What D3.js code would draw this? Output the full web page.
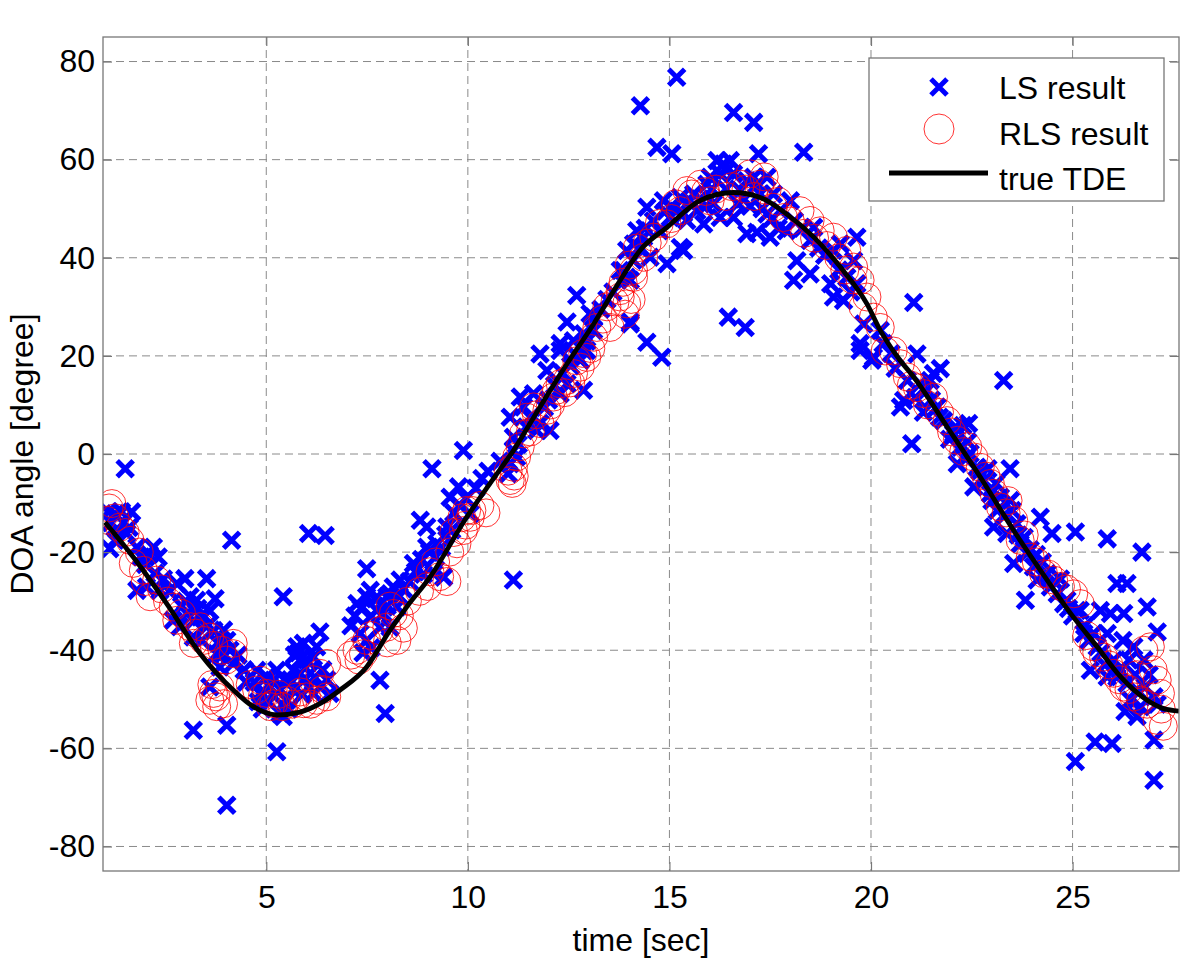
<!DOCTYPE html>
<html>
<head>
<meta charset="utf-8">
<script src="https://cdn.jsdelivr.net/npm/d3@7"></script>
<style>
  body { margin: 0; background: #fff; }
  text { font-family: "Liberation Sans", Arial, Helvetica, sans-serif; fill: #000; }
</style>
</head>
<body>
<div id="chart"></div>
<script>
// tick values
var xTicks = [5, 10, 15, 20, 25];
var yTicks = [-80, -60, -40, -20, 0, 20, 40, 60, 80];

// true TDE curve: [time, angle]
var tdePoints = [
  [1.0,-13.9],[1.7,-21.0],[2.53,-30.5],[3.36,-40.7],[4.18,-48.1],[4.68,-51.5],[5.26,-53.2],
  [5.84,-52.6],[6.33,-50.9],[6.83,-48.1],[7.49,-43.4],[8.07,-35.9],[8.5,-31.0],[9.06,-25.1],
  [9.97,-12.9],[10.55,-6.0],[11.13,0.7],[11.79,9.6],[12.46,18.4],[13.12,26.5],[13.78,35.4],
  [14.27,41.5],[14.94,46.2],[15.77,51.7],[16.59,53.3],[17.25,52.3],[17.91,48.9],[18.58,44.2],
  [19.24,38.1],[19.9,30.6],[20.23,25.2],[20.73,19.0],[21.06,15.7],[21.89,5.5],[22.71,-4.7],
  [23.54,-15.6],[24.37,-25.7],[24.95,-32.5],[25.61,-39.3],[26.19,-45.4],[26.85,-50.2],
  [27.26,-51.9],[27.64,-52.4]
];

// LS result markers: [time, angle]
var lsPoints = [
  [1.50,-3.0],[1.08,-11.8],[1.25,-12.2],[1.41,-11.8],[1.66,-11.8],[1.12,-19.3],[1.25,-17.6],[1.54,-16.2],
  [1.79,-19.0],[2.20,-19.0],[2.32,-21.0],[1.79,-27.8],[2.03,-27.1],[2.36,-27.8],[2.24,-24.3],[2.78,-26.4],
  [2.98,-25.4],[3.52,-25.4],[3.73,-29.5],[3.27,-29.8],[3.11,-29.1],[2.69,-33.9],[2.86,-35.2],[3.03,-32.5],
  [3.36,-33.2],[3.52,-35.2],[3.19,-37.3],[3.94,-35.9],[4.02,-38.0],[3.77,-40.7],[4.18,-42.7],[3.85,-43.4],
  [3.60,-47.5],[3.19,-56.3],[4.02,-55.3],[4.02,-71.6],[4.14,-17.6],[5.42,-29.1],[6.05,-16.2],[6.46,-16.6],
  [5.26,-60.7],[4.76,-44.1],[5.01,-45.4],[5.26,-44.1],[5.18,-46.1],[4.85,-48.8],[5.01,-50.2],[5.34,-52.9],
  [5.51,-50.2],[5.67,-48.1],[5.84,-44.7],[5.76,-39.3],[5.92,-38.6],[6.00,-42.0],[6.17,-41.4],[6.25,-39.3],
  [6.09,-44.7],[6.33,-36.3],[5.84,-42.0],[5.67,-44.1],[6.17,-48.8],[6.33,-47.5],[6.58,-48.8],[5.42,-53.5],
  [4.90,-52.0],[7.49,-23.4],[7.82,-46.1],[7.95,-52.9],[7.25,-30.5],[7.49,-29.1],[7.58,-27.8],[7.74,-31.9],
  [7.99,-29.1],[8.15,-27.1],[8.24,-31.2],[7.33,-36.6],[7.49,-38.0],[7.82,-35.3],[8.07,-35.3],
  [1.15,-14.0],[1.30,-15.5],[1.45,-14.0],[1.60,-15.0],[1.90,-21.0],[2.00,-22.5],[2.10,-20.5],[2.45,-25.5],
  [2.60,-28.0],[2.90,-31.0],[3.00,-30.0],[3.20,-34.0],[3.30,-31.5],[3.45,-33.0],[3.60,-32.0],[3.70,-36.0],
  [3.80,-38.5],[3.90,-41.0],[4.10,-40.0],[4.30,-41.0],[4.45,-44.0],[4.50,-46.5],[3.40,-38.0],
  [4.70,-46.5],[4.80,-50.5],[5.10,-47.5],[5.20,-49.5],[5.35,-48.0],[5.45,-46.0],[5.60,-46.0],[5.70,-41.0],
  [5.80,-40.5],[5.95,-46.0],[6.05,-47.5],[6.20,-45.5],[6.40,-44.0],[6.50,-46.0],[5.55,-52.0],[5.90,-49.0],
  [7.10,-35.0],[7.20,-33.0],[7.35,-31.5],[7.60,-33.0],[7.70,-29.5],[7.90,-32.5],[8.00,-31.0],[8.30,-29.0],
  [8.40,-27.5],[7.40,-40.5],[7.60,-39.5],
  [8.55,-26.0],[8.70,-24.0],[8.85,-21.5],[8.90,-24.5],[9.05,-20.0],[9.20,-21.0],[9.35,-19.0],[9.45,-16.5],
  [9.60,-15.5],[9.65,-12.0],[9.80,-10.5],[9.95,-9.0],[10.20,-7.0],[10.35,-5.0],
  [12.70,32.3],[12.46,26.9],[13.03,28.6],[13.12,25.2],[11.79,20.4],[11.96,17.0],[12.29,21.1],[12.62,23.1],
  [12.87,21.1],[12.79,19.1],[12.87,13.0],[12.46,14.3],[12.29,12.3],[11.30,11.6],[11.05,7.5],[11.38,9.6],
  [11.63,12.3],[12.04,4.8],[11.79,6.2],[11.71,4.8],[11.13,3.4],[11.13,0.7],[11.05,-2.0],[11.21,-0.6],
  [9.89,0.7],[9.11,-3.0],[9.77,-6.7],[9.56,-8.8],[10.06,-12.2],[8.82,-13.5],[8.98,-14.9],[9.48,-14.9],
  [8.98,-19.0],[9.23,-18.3],[8.65,-22.3],[9.15,-24.4],[9.40,-25.1],[8.32,-25.7],[8.07,-28.5],[11.13,-25.7],
  [13.78,37.4],[14.03,26.5],[13.94,36.0],[12.29,22.5],[12.87,24.5],[13.12,27.9],[12.95,21.1],[10.5,-3.5],
  [10.8,-1.5],
  [11.00,-4.0],[11.25,2.0],[11.45,5.5],[11.55,7.5],[11.90,9.5],[12.00,11.0],[12.15,14.0],[12.35,16.5],
  [12.55,18.0],[12.70,20.0],[12.95,23.0],[13.30,29.5],[13.45,31.5],[13.60,33.0],
  [15.18,76.8],[14.28,71.0],[16.59,69.6],[17.09,67.6],[14.69,62.5],[15.06,61.2],[17.21,61.2],[18.33,61.5],
  [16.34,59.1],[16.42,57.8],[16.01,56.4],[14.44,50.3],[14.85,51.6],[15.27,52.3],[15.51,51.6],[15.02,48.2],
  [14.19,45.5],[14.11,42.8],[14.36,44.2],[13.94,41.5],[14.52,40.1],[14.94,38.8],[15.35,41.5],[15.27,42.1],
  [13.86,37.4],[14.03,35.4],[14.03,26.9],[14.44,22.8],[14.81,19.7],[16.46,27.9],[16.88,25.8],[15.85,46.9],
  [16.09,51.0],[16.59,48.2],[16.92,44.9],[17.17,45.2],[17.50,44.2],[17.42,48.9],[17.17,55.0],[16.92,55.7],
  [17.42,56.4],[16.76,53.7],[18.00,51.6],[18.16,39.4],[18.08,35.4],[18.49,36.7],[18.58,46.2],[18.49,43.5],
  [19.07,41.5],[19.24,42.8],[19.65,44.2],[19.57,39.4],[19.00,34.7],[19.07,32.0],[19.32,31.3],[19.65,34.7],
  [19.82,26.5],[19.73,22.5],[20.06,19.7],[20.73,9.6],[16.26,48.2],[15.68,49.6],[15.43,47.6],[17.75,49.6],
  [16.18,59.8],[16.51,59.8],[16.26,57.1],[16.59,57.1],[15.93,55.0],[17.09,56.4],[17.25,53.0],[17.58,53.0],
  [19.73,21.1],[20.02,19.1],
  [14.10,39.5],[14.25,42.0],[14.40,46.0],[14.60,47.5],[14.75,45.5],[14.90,49.5],[15.10,50.0],[15.35,49.0],
  [15.60,53.0],[15.75,52.0],[15.90,50.5],[16.05,54.0],[16.40,54.0],[16.70,51.0],[16.85,52.0],[17.00,50.5],
  [17.30,50.0],[17.55,48.0],[17.70,46.0],[17.90,45.5],[18.10,47.5],[18.30,46.0],[18.70,42.0],[18.85,40.5],
  [19.20,37.5],[19.40,36.0],[19.50,33.0],[20.30,22.5],[20.50,20.5],[20.60,17.5],
  [21.06,30.9],[21.14,20.4],[21.72,17.4],[21.55,16.4],[20.81,10.9],[21.01,2.1],[23.29,15.0],[22.42,6.2],
  [23.45,-3.0],[24.20,-12.9],[24.49,-16.2],[25.07,-15.9],[25.86,-17.3],[26.72,-20.0],[23.83,-29.8],[26.10,-26.4],
  [26.35,-26.4],[26.85,-31.2],[27.10,-36.3],[25.69,-31.9],[25.94,-32.5],[26.27,-32.5],[25.86,-36.6],[25.52,-36.6],
  [26.52,-39.3],[26.77,-42.0],[25.44,-44.1],[26.19,-44.1],[26.44,-50.2],[26.69,-51.5],[27.02,-49.5],[25.56,-58.7],
  [25.98,-59.0],[27.02,-58.3],[25.07,-62.7],[27.02,-66.5],[25.11,-31.9],[24.86,-29.8],
  [20.90,15.0],[21.22,14.3],[21.47,15.0],[21.39,13.0],[21.64,9.6],[21.80,6.8],[22.05,4.1],[22.22,1.4],
  [22.14,-2.0],[22.46,0.1],[22.63,-2.7],[22.55,-6.7],[22.80,-5.4],[22.96,-8.1],[23.13,-11.5],[23.21,-8.8],
  [23.46,-9.5],[23.04,-14.9],[23.37,-16.2],[23.62,-14.2],[23.70,-18.3],[23.54,-22.3],[23.87,-20.3],[24.03,-23.0],
  [24.12,-25.7],[24.37,-24.4],[24.45,-27.1],[24.62,-28.5],[24.78,-30.5],[25.19,-31.9],[25.28,-36.6],[25.61,-39.3],
  [26.02,-42.0],[25.86,-45.4],[26.35,-46.8],[26.60,-48.1],[20.23,25.2],[22.28,5.8],
  [21.10,11.5],[21.30,8.5],[21.50,11.0],[21.70,7.5],[21.95,3.0],[22.10,5.5],[22.35,-1.0],[22.40,2.5],
  [22.70,-3.5],[22.90,-3.0],[23.00,-9.5],[23.10,-6.0],[23.30,-12.5],[23.50,-11.5],[23.65,-16.5],[23.80,-17.0],
  [23.95,-19.5],[24.10,-20.5],[24.25,-22.0],[24.55,-26.0],[24.70,-25.5],[24.90,-31.5],[25.00,-33.0],
  [25.30,-35.0],[25.40,-38.0],[25.70,-40.5],[25.80,-43.0],[26.10,-45.5],[26.25,-38.0],[26.40,-42.0],[26.55,-45.0],
  [26.80,-47.5],[26.90,-45.0],[27.10,-51.0],[26.30,-52.5],[26.60,-53.5]
];

// RLS result markers: [time, angle]
var rlsPoints = [
  [1.17,-10.1],[1.04,-13.5],[1.37,-14.9],[1.62,-17.6],[1.70,-22.3],[1.95,-23.7],[2.12,-29.1],[2.28,-25.7],
  [2.69,-31.2],[2.78,-33.9],[3.11,-35.2],[3.19,-38.6],[3.36,-35.2],[3.60,-37.3],[4.18,-40.7],[4.18,-38.6],
  [3.69,-48.8],[3.60,-50.2],[3.85,-47.5],[3.94,-50.9],[3.77,-51.5],[4.85,-46.1],[4.76,-48.1],[5.01,-48.8],
  [5.18,-50.9],[5.51,-50.2],[5.76,-49.5],[6.00,-49.5],[6.25,-50.2],[5.92,-50.9],[6.50,-42.7],[6.33,-44.7],
  [6.50,-49.5],[7.25,-40.0],[7.41,-40.7],[7.49,-38.0],[7.99,-35.3],[8.15,-32.5],[8.24,-38.0],
  [8.07,-31.0],[8.30,-33.0],[8.50,-30.0],[9.06,-24.0],[9.30,-25.0],[9.48,-26.0],[9.73,-18.3],[9.89,-15.6],
  [10.06,-12.9],[9.97,-11.5],[11.13,-2.7],[11.05,-5.4],[11.21,-0.6],[11.38,4.1],[11.46,7.5],[11.63,9.6],
  [11.79,6.2],[11.96,8.9],[12.12,11.6],[12.29,14.3],[12.46,15.0],[12.62,16.4],[12.79,17.7],[12.95,19.7],
  [13.12,23.8],[13.20,25.8],[13.78,33.3],[13.94,30.6],[14.11,37.4],
  [13.53,25.8],[13.78,32.0],[14.11,36.0],[14.36,40.1],[14.61,44.2],[14.94,46.9],[15.27,49.6],[15.43,53.7],
  [15.77,55.0],[16.01,51.6],[16.26,50.3],[16.76,55.0],[17.00,57.1],[17.25,55.0],[17.42,53.7],[17.58,50.3],
  [17.83,48.2],[18.24,49.6],[18.49,47.6],[18.74,45.5],[19.07,44.2],[19.40,41.5],[19.57,38.1],[19.73,35.4],
  [19.90,32.0],[20.06,27.9],[20.23,25.8],
  [20.73,18.4],[20.90,15.7],[21.31,12.3],[21.55,11.6],[21.89,6.8],[22.14,2.8],[22.55,-0.6],[22.71,-2.7],
  [22.96,-6.0],[23.21,-10.8],[23.54,-13.5],[23.70,-17.6],[23.95,-21.0],[24.28,-24.4],[24.53,-25.7],[25.03,-28.5],
  [25.19,-30.5],[25.52,-39.3],[25.77,-41.4],[26.02,-44.7],[26.27,-47.5],[26.77,-40.0],[26.93,-39.3],[27.10,-46.1],
  [27.18,-48.8],[27.10,-54.3],[26.69,-50.2],[26.52,-49.5],
  [1.10,-11.0],[1.25,-13.0],[1.50,-16.0],[1.85,-20.0],[2.00,-26.0],[2.40,-27.5],[2.55,-30.0],[2.90,-32.5],
  [3.25,-36.5],[3.45,-38.0],[3.70,-39.0],[3.90,-40.0],[4.00,-42.0],[3.75,-49.5],[3.65,-47.0],[4.60,-47.0],
  [4.90,-49.5],[5.10,-51.5],[5.30,-49.0],[5.40,-51.5],[5.65,-51.0],[5.85,-48.5],[6.10,-51.0],[6.40,-48.0],
  [6.15,-46.0],[7.10,-41.0],[7.30,-42.0],[7.60,-37.0],[7.80,-36.0],[8.00,-38.5],[8.40,-35.5],[8.80,-28.0],
  [9.00,-27.0],[9.20,-22.0],[9.55,-20.0],[9.65,-16.0],[9.85,-13.0],[9.95,-14.5],[10.10,-11.5],[11.00,-3.5],
  [11.10,-6.0],[11.30,1.5],[11.55,4.5],[11.70,8.0],[12.05,10.0],[12.20,13.0],[12.40,12.5],[12.55,14.5],
  [12.70,19.0],[12.85,20.5],[13.05,21.5],[13.35,27.5],[13.45,30.0],[13.65,31.0],[13.85,35.0],[14.00,38.5],
  [14.20,42.0],[14.45,43.0],[14.75,47.0],[15.05,48.0],[15.15,51.0],[15.55,53.0],[15.90,53.5],[16.15,54.0],
  [16.40,52.5],[16.55,54.5],[16.90,54.0],[17.10,52.5],[17.35,56.5],[17.70,51.5],[18.00,47.5],[18.35,45.0],
  [18.60,44.0],[18.90,42.5],[19.20,40.0],[19.35,37.5],[19.55,35.5],[19.80,30.0],[20.35,21.0],[20.55,21.0],
  [21.00,14.0],[21.15,13.5],[21.40,10.0],[21.70,8.5],[22.00,4.5],[22.30,0.5],[22.40,1.5],[22.85,-4.5],
  [23.05,-8.0],[23.35,-12.0],[23.40,-9.5],[23.80,-16.5],[24.10,-22.0],[24.40,-24.5],[24.70,-27.0],[24.85,-27.5],
  [25.35,-37.0],[25.60,-40.5],[25.90,-43.0],[26.15,-46.0],[26.40,-48.0],[26.60,-45.0],[26.85,-51.0],[27.00,-44.0],
  [27.20,-52.0],[27.25,-55.5],
  [10.30,-10.5],[10.45,-12.0],[11.15,-4.5],[13.90,28.5],[14.05,31.5]
];

var legendLabels = ["LS result", "RLS result", "true TDE"];

var W = 1200, H = 965;
var margin = {top: 37, right: 21, bottom: 94, left: 103};
var width = W - margin.left - margin.right,
    height = H - margin.top - margin.bottom;

var fontSize = 32;

var svg = d3.select("#chart").append("svg")
    .attr("width", W)
    .attr("height", H);

var g = svg.append("g")
    .attr("transform", "translate(" + margin.left + "," + margin.top + ")");

var x = d3.scaleLinear().domain([0.95, 27.64]).range([0, width]);
var y = d3.scaleLinear().domain([-85, 85]).range([height, 0]);

// clip so markers stay inside axes
g.append("clipPath").attr("id", "clip")
  .append("rect").attr("width", width).attr("height", height);

// grid
g.append("g").selectAll("line").data(xTicks).enter().append("line")
    .attr("x1", function(d) { return x(d); }).attr("x2", function(d) { return x(d); })
    .attr("y1", 0).attr("y2", height)
    .attr("stroke", "#8a8a8a").attr("stroke-dasharray", "8,5");
g.append("g").selectAll("line").data(yTicks).enter().append("line")
    .attr("y1", function(d) { return y(d); }).attr("y2", function(d) { return y(d); })
    .attr("x1", 0).attr("x2", width)
    .attr("stroke", "#8a8a8a").attr("stroke-dasharray", "8,5");

var plot = g.append("g").attr("clip-path", "url(#clip)");

var crossPath = "M-8,-8L8,8M-8,8L8,-8";

// LS crosses
plot.append("g").selectAll("path").data(lsPoints).enter().append("path")
    .attr("d", crossPath)
    .attr("transform", function(d) { return "translate(" + x(d[0]) + "," + y(d[1]) + ")"; })
    .attr("stroke", "#0000ff").attr("stroke-width", 5).attr("fill", "none");

// RLS circles
plot.append("g").selectAll("circle").data(rlsPoints).enter().append("circle")
    .attr("cx", function(d) { return x(d[0]); })
    .attr("cy", function(d) { return y(d[1]); })
    .attr("r", 14)
    .attr("fill", "none").attr("stroke", "#ff0000").attr("stroke-width", 0.8);

// true TDE
plot.append("path").datum(tdePoints)
    .attr("d", d3.line()
        .x(function(d) { return x(d[0]); })
        .y(function(d) { return y(d[1]); })
        .curve(d3.curveMonotoneX))
    .attr("fill", "none").attr("stroke", "#000").attr("stroke-width", 4.8);

// axes box with inward ticks
var tickLen = 9;
var axisColor = "#777";
var plainFmt = function(d) { return String(d); };   // hyphen minus like MATLAB
g.append("rect").attr("width", width).attr("height", height)
    .attr("fill", "none").attr("stroke", axisColor).attr("stroke-width", 1.3);

g.append("g").attr("transform", "translate(0," + height + ")")
    .call(d3.axisBottom(x).tickValues(xTicks).tickSizeInner(-tickLen).tickSizeOuter(0).tickPadding(14).tickFormat(plainFmt))
    .call(function(s) { s.select(".domain").remove(); });
g.append("g").call(d3.axisTop(x).tickValues(xTicks).tickSizeInner(-tickLen).tickSizeOuter(0).tickFormat(""))
    .call(function(s) { s.select(".domain").remove(); });
g.append("g")
    .call(d3.axisLeft(y).tickValues(yTicks).tickSizeInner(-tickLen).tickSizeOuter(0).tickPadding(8).tickFormat(plainFmt))
    .call(function(s) { s.select(".domain").remove(); });
g.append("g").attr("transform", "translate(" + width + ",0)")
    .call(d3.axisRight(y).tickValues(yTicks).tickSizeInner(-tickLen).tickSizeOuter(0).tickFormat(""))
    .call(function(s) { s.select(".domain").remove(); });

g.selectAll(".tick line").attr("stroke", axisColor).attr("stroke-width", 1.2);
g.selectAll(".tick text")
    .attr("font-family", "'Liberation Sans', Arial, sans-serif")
    .attr("font-size", fontSize)
    .attr("fill", "#000");

// axis labels
g.append("text")
    .attr("x", width / 2).attr("y", height + 80)
    .attr("text-anchor", "middle").attr("font-size", fontSize)
    .text("time [sec]");
g.append("text")
    .attr("transform", "translate(" + (-70) + "," + (height / 2) + ") rotate(-90)")
    .attr("text-anchor", "middle").attr("font-size", fontSize)
    .text("DOA angle [degree]");

// legend
var lg = g.append("g").attr("transform", "translate(" + (869 - margin.left) + "," + (58 - margin.top) + ")");
lg.append("rect").attr("width", 295).attr("height", 143)
    .attr("fill", "#fff").attr("stroke", axisColor).attr("stroke-width", 1.3);
var rowY = [29, 71, 115];
lg.append("path").attr("d", crossPath)
    .attr("transform", "translate(70," + rowY[0] + ")")
    .attr("stroke", "#0000ff").attr("stroke-width", 5).attr("fill", "none");
lg.append("circle").attr("cx", 70).attr("cy", rowY[1]).attr("r", 15)
    .attr("fill", "none").attr("stroke", "#ff0000").attr("stroke-width", 0.8);
lg.append("line").attr("x1", 20).attr("x2", 119).attr("y1", rowY[2]).attr("y2", rowY[2])
    .attr("stroke", "#000").attr("stroke-width", 4.8);
lg.selectAll("text.lab").data(legendLabels).enter().append("text")
    .attr("class", "lab")
    .attr("x", 130)
    .attr("y", function(d, i) { return [41, 87, 132][i]; })
    .attr("font-size", fontSize)
    .text(function(d) { return d; });
</script>
</body>
</html>
